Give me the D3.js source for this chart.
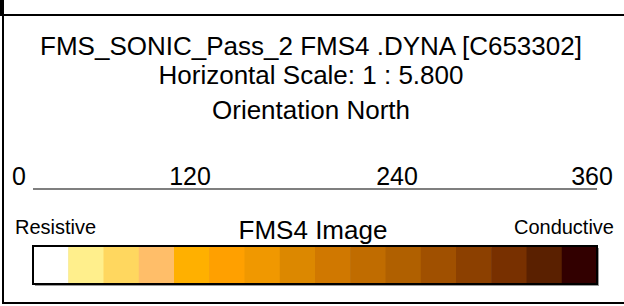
<!DOCTYPE html>
<html>
<head>
<meta charset="utf-8">
<script src="https://cdn.jsdelivr.net/npm/d3@7"></script>
<style>
  html, body { margin: 0; background: #fff; overflow: hidden; }
  svg { display: block; }
  text { font-family: "Liberation Sans", Arial, sans-serif; fill: #000; }
</style>
</head>
<body>
<div id="chart"></div>
<script>
// header lines
var titleLines = ["FMS_SONIC_Pass_2 FMS4 .DYNA [C653302]", "Horizontal Scale: 1 : 5.800", "Orientation North"];
// horizontal scale ticks (degrees)
var scaleTicks = [0, 120, 240, 360];
// colour legend
var legendTitle = "FMS4 Image";
var legendEnds = ["Resistive", "Conductive"];
var legendColors = ["#ffffff", "#ffef8c", "#ffd75f", "#ffbe69", "#ffb000", "#ffa000", "#f09800", "#dc8800",
                    "#d07800", "#c06c00", "#b06000", "#a05000", "#8c4000", "#783000", "#5a2000", "#320000"];

var width = 624, height = 306;

var svg = d3.select("#chart").append("svg")
    .attr("width", width)
    .attr("height", height);

// frame
svg.append("line").attr("x1", 3).attr("x2", 3).attr("y1", 0).attr("y2", 304)
    .attr("stroke", "#000").attr("stroke-width", 2);
svg.append("rect").attr("x", 0).attr("y", 0).attr("width", 3).attr("height", 15)
    .attr("fill", "#000");
svg.append("line").attr("x1", 0).attr("x2", width).attr("y1", 15).attr("y2", 15)
    .attr("stroke", "#000").attr("stroke-width", 2);
svg.append("line").attr("x1", 2).attr("x2", width).attr("y1", 303).attr("y2", 303)
    .attr("stroke", "#000").attr("stroke-width", 2);

// header text
var lineY = [55, 84, 119];
svg.selectAll("text.title")
  .data(titleLines)
  .enter().append("text")
    .attr("class", "title")
    .attr("x", 311)
    .attr("y", function(d, i) { return lineY[i]; })
    .attr("text-anchor", "middle")
    .style("font-size", "26px")
    .text(function(d) { return d; });

// scale bar
var x = d3.scaleLinear().domain([0, 360]).range([33, 597]);
// label positions are not evenly spread in the original
var xLabel = d3.scaleLinear().domain([0, 120, 240, 360]).range([19, 190, 397, 592]);

svg.append("line")
    .attr("x1", x(0)).attr("x2", x(360))
    .attr("y1", 189).attr("y2", 189)
    .attr("stroke", "#000").attr("stroke-width", 1.2);

svg.selectAll("text.tick")
  .data(scaleTicks)
  .enter().append("text")
    .attr("class", "tick")
    .attr("x", function(d) { return xLabel(d); })
    .attr("y", 185)
    .attr("text-anchor", "middle")
    .style("font-size", "25px")
    .text(function(d) { return d; });

// colour legend
svg.append("text")
    .attr("x", 15).attr("y", 234)
    .style("font-size", "20px")
    .text(legendEnds[0]);
svg.append("text")
    .attr("x", 614).attr("y", 234)
    .attr("text-anchor", "end")
    .style("font-size", "20px")
    .text(legendEnds[1]);
svg.append("text")
    .attr("x", 313).attr("y", 239)
    .attr("text-anchor", "middle")
    .style("font-size", "26px")
    .text(legendTitle);

var band = d3.scaleBand()
    .domain(d3.range(legendColors.length))
    .range([33, 597]);
var barTop = 246, barH = 38;

// shadow
svg.append("rect")
    .attr("x", 35).attr("y", barTop + 2)
    .attr("width", 564).attr("height", barH)
    .attr("fill", "#999");

svg.selectAll("rect.cell")
  .data(legendColors)
  .enter().append("rect")
    .attr("class", "cell")
    .attr("x", function(d, i) { return band(i); })
    .attr("y", barTop)
    .attr("width", band.bandwidth() + 0.5)
    .attr("height", barH)
    .attr("fill", function(d) { return d; });

svg.append("rect")
    .attr("x", 33).attr("y", barTop)
    .attr("width", 564).attr("height", barH)
    .attr("fill", "none")
    .attr("stroke", "#000")
    .attr("stroke-width", 2);
</script>
</body>
</html>
